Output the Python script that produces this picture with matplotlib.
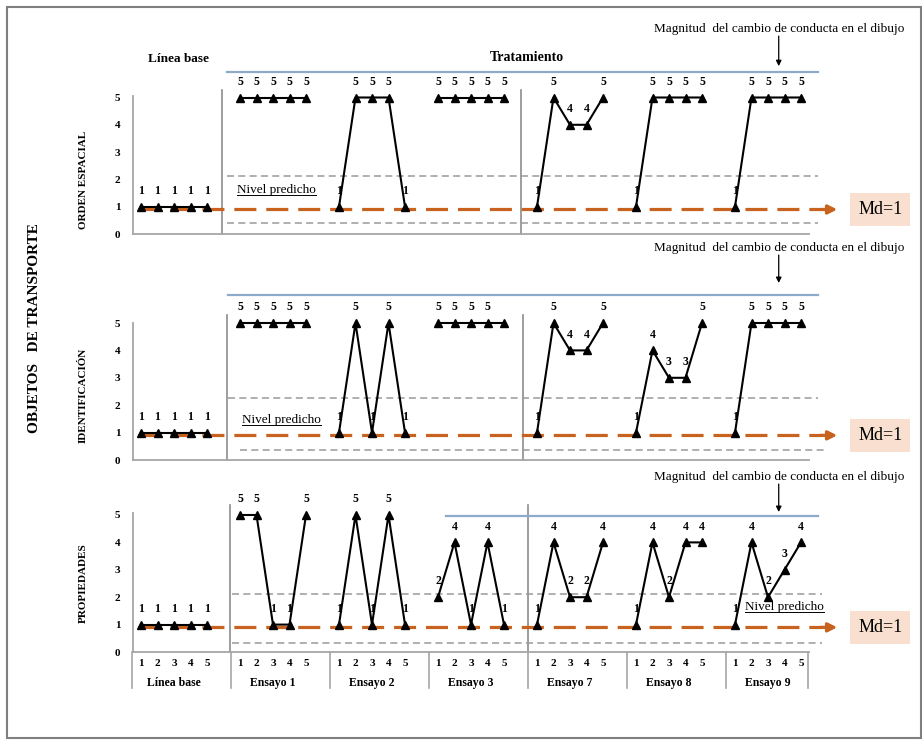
import matplotlib
matplotlib.use("Agg")
import matplotlib.pyplot as plt
import matplotlib.transforms as mtransforms
from matplotlib.lines import Line2D
from matplotlib.patches import Rectangle

plt.rcParams['font.family'] = ['Liberation Serif', 'DejaVu Serif']

# Sesiones y fases
grupos = ["Línea base", "Ensayo 1", "Ensayo 2", "Ensayo 3", "Ensayo 7", "Ensayo 8", "Ensayo 9"]
sesiones = [1, 2, 3, 4, 5]

# Puntuaciones por fase (una fila por grupo, cinco sesiones)
orden_espacial = [
    [1, 1, 1, 1, 1],
    [5, 5, 5, 5, 5],
    [1, 5, 5, 5, 1],
    [5, 5, 5, 5, 5],
    [1, 5, 4, 4, 5],
    [1, 5, 5, 5, 5],
    [1, 5, 5, 5, 5],
]
identificacion = [
    [1, 1, 1, 1, 1],
    [5, 5, 5, 5, 5],
    [1, 5, 1, 5, 1],
    [5, 5, 5, 5, 5],
    [1, 5, 4, 4, 5],
    [1, 4, 3, 3, 5],
    [1, 5, 5, 5, 5],
]
propiedades = [
    [1, 1, 1, 1, 1],
    [5, 5, 1, 1, 5],
    [1, 5, 1, 5, 1],
    [2, 4, 1, 4, 1],
    [1, 4, 2, 2, 4],
    [1, 4, 2, 4, 4],
    [1, 4, 2, 3, 4],
]
# puntos sin etiqueta (grupo, sesion)
sin_etiqueta = [[], [(3, 4)], []]

nombres = ["ORDEN ESPACIAL", "IDENTIFICACIÓN", "PROPIEDADES"]
series = [orden_espacial, identificacion, propiedades]
mediana = [1, 1, 1]
nivel_sup = [2.12, 2.26, 2.12]
nivel_inf = [0.40, 0.37, 0.33]
magnitud = [5.93, 6.02, 4.96]

W, H = 922, 740
fig = plt.figure(figsize=(W / 100, H / 100), dpi=100)

X0, DX = 141, 16.5
XLIM = (-1.0, 47.0)
GAP = 6
NARANJA = '#c8631f'
GRIS = '#9a9a9a'
AZUL = '#8eaac9'


def xs(g):
    return [GAP * g + s for s in range(len(sesiones))]


def panel_axes(y0, dy, ylim):
    left = X0 + DX * XLIM[0]
    right = X0 + DX * XLIM[1]
    top = y0 - dy * ylim[1]
    bottom = y0 - dy * ylim[0]
    ax = fig.add_axes([left / W, 1 - bottom / H, (right - left) / W, (bottom - top) / H])
    ax.set_xlim(XLIM)
    ax.set_ylim(ylim)
    ax.patch.set_visible(False)
    return ax


# disposicion de cada panel
layout = [
    dict(y0=234, dy=27.3, ylim=(-0.6, 8.2), fase=[4.9, 23.0], fase_top=5.27, spine_top=5.05,
         azul_x=(5.2, 41.0), sup_x=(5.2, 41.0), inf_x=(5.2, 41.0),
         nivel=(5.8, 1.6), mag_y=7.5, flecha=(7.25, 6.15), label_y=180),
    dict(y0=460, dy=27.4, ylim=(-0.6, 8.2), fase=[5.2, 23.15], fase_top=5.3, spine_top=5.0,
         azul_x=(5.3, 41.0), sup_x=(5.3, 41.0), inf_x=(6.0, 41.6),
         nivel=(6.1, 1.46), mag_y=7.74, flecha=(7.48, 6.46), label_y=395),
    dict(y0=652, dy=27.4, ylim=(-1.6, 6.9), fase=[5.4, 23.45], fase_top=5.35, spine_top=5.07,
         azul_x=(18.5, 41.0), sup_x=(5.5, 41.3), inf_x=(5.5, 41.3),
         nivel=(36.6, 1.65), mag_y=6.39, flecha=(6.13, 5.11), label_y=583),
]

niveles = []
for i, (datos, lay) in enumerate(zip(series, layout)):
    ax = panel_axes(lay['y0'], lay['dy'], lay['ylim'])

    for side in ('top', 'right'):
        ax.spines[side].set_visible(False)
    ax.spines['left'].set_position(('data', -0.5))
    ax.spines['left'].set_bounds(0, lay['spine_top'])
    ax.spines['bottom'].set_position(('data', 0))
    ax.spines['bottom'].set_bounds(-0.5, 40.5)
    for side in ('left', 'bottom'):
        ax.spines[side].set_color('#a6a6a6')
        ax.spines[side].set_linewidth(1.3)

    ax.set_yticks(range(6))
    ax.tick_params(axis='y', length=0, pad=9, labelsize=8)
    for t in ax.get_yticklabels():
        t.set_fontweight('bold')

    # lineas de cambio de fase
    for xf in lay['fase']:
        ax.plot([xf, xf], [0, lay['fase_top']], color='#8c8c8c', lw=1.2, clip_on=False)

    # nivel predicho y magnitud
    ax.plot(lay['sup_x'], [nivel_sup[i]] * 2, color=GRIS, lw=1.1, dashes=(4.6, 2.8))
    ax.plot(lay['inf_x'], [nivel_inf[i]] * 2, color=GRIS, lw=1.1, dashes=(4.6, 2.8))
    ax.plot(lay['azul_x'], [magnitud[i]] * 2, color=AZUL, lw=1.6, clip_on=False)

    # mediana de la linea base
    baja = ax.transData + mtransforms.ScaledTranslation(0, -2 / 72, fig.dpi_scale_trans)
    ax.plot([-0.2, 41.3], [mediana[i]] * 2, color=NARANJA, lw=2.3, dashes=(6.9, 3.1),
            transform=baja, zorder=2, clip_on=False)
    ax.annotate('', xy=(42.2, mediana[i]), xytext=(41.2, mediana[i]), xycoords=baja,
                textcoords=baja, annotation_clip=False,
                arrowprops=dict(arrowstyle='-|>', color=NARANJA, lw=2.3, mutation_scale=13,
                                shrinkA=0, shrinkB=0))
    ax.text(44.8, mediana[i], f"Md={mediana[i]}", transform=baja, ha='center', va='center',
            fontsize=13, clip_on=False,
            bbox=dict(boxstyle='square,pad=0.45', fc='#f9dfcf', ec='none'))

    # series por fase
    for g, fila in enumerate(datos):
        ax.plot(xs(g), fila, color='black', lw=1.5, marker='^', ms=5.5, zorder=4, clip_on=False)
        for s, (x, v) in enumerate(zip(xs(g), fila)):
            if (g, s) in sin_etiqueta[i]:
                continue
            ax.text(x, v + 0.58, str(v), ha='center', va='center', fontsize=8.5,
                    fontweight='bold', zorder=5)

    nx, ny = lay['nivel']
    niveles.append(ax.text(nx, ny, "Nivel predicho", ha='left', va='center', fontsize=9.5))

    ax.text(38.7, lay['mag_y'], "Magnitud  del cambio de conducta en el dibujo",
            ha='center', va='center', fontsize=9.5, clip_on=False)
    ax.annotate('', xy=(38.65, lay['flecha'][1]), xytext=(38.65, lay['flecha'][0]),
                annotation_clip=False,
                arrowprops=dict(arrowstyle='-|>', color='black', lw=0.9, mutation_scale=8,
                                shrinkA=0, shrinkB=0))

    fig.text(83 / W, 1 - lay['label_y'] / H, nombres[i], rotation=90, ha='center',
             va='center', fontsize=8, fontweight='bold')

    if i == 0:
        ax.text(2.25, 6.41, "Línea base", ha='center', va='center', fontsize=9.5, fontweight='bold')
        ax.text(23.4, 6.48, "Tratamiento", ha='center', va='center', fontsize=10, fontweight='bold')

    if i == 2:
        ticks = [x for g in range(len(grupos)) for x in xs(g)]
        ax.set_xticks(ticks)
        ax.set_xticklabels([str(s) for _ in grupos for s in sesiones], fontweight='bold')
        ax.tick_params(axis='x', length=0, pad=5, labelsize=8)
        for g, nombre in enumerate(grupos):
            ax.text(GAP * g + 2, -1.13, nombre, ha='center', va='center', fontsize=8.5,
                    fontweight='bold')
        separadores = [GAP * g - 0.55 for g in range(len(grupos))] + [40.4]
        for xsep in separadores:
            ax.plot([xsep, xsep], [0, -1.31], color='#a6a6a6', lw=1.2, clip_on=False)
    else:
        ax.set_xticks([])

fig.text(35 / W, 1 - 328 / H, "OBJETOS   DE TRANSPORTE", rotation=90, ha='center',
         va='center', fontsize=11, fontweight='bold')

# subrayado de "Nivel predicho"
fig.canvas.draw()
inv = fig.transFigure.inverted()
for t in niveles:
    bb = t.get_window_extent()
    (x0, y0), (x1, _) = inv.transform([(bb.x0, bb.y0 + 1), (bb.x1, bb.y0 + 1)])
    fig.add_artist(Line2D([x0, x1], [y0, y0], color='black', lw=0.7, transform=fig.transFigure))

fig.add_artist(Rectangle((7 / W, 1 - 738 / H), (921 - 7) / W, (738 - 7) / H, fill=False,
                         ec='#7f7f7f', lw=1.5, transform=fig.transFigure))

fig.savefig("out.png", dpi=100)
